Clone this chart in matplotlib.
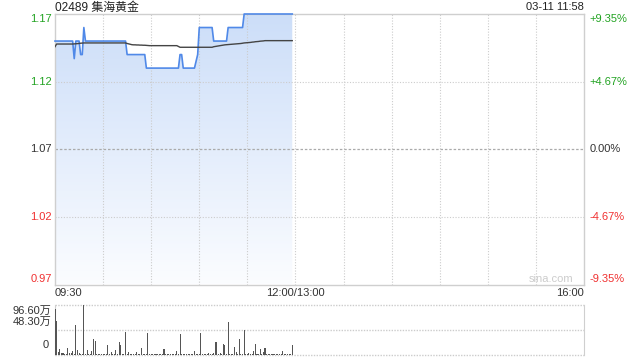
import matplotlib
matplotlib.use("Agg")
import matplotlib.pyplot as plt
import numpy as np
from matplotlib import transforms

plt.rcParams['font.family'] = ['Liberation Sans', 'Noto Sans CJK SC', 'DejaVu Sans']

title = "02489 集海黄金"
stamp = "03-11 11:58"
prev_close = 1.07
y_ticks = [1.17, 1.12, 1.07, 1.02, 0.97]
y_tick_labels = ["1.17", "1.12", "1.07", "1.02", "0.97"]
pct_labels = ["+9.35%", "+4.67%", "0.00%", "-4.67%", "-9.35%"]
x_labels = ["09:30", "12:00/13:00", "16:00"]
vol_labels = ["96.60万", "48.30万", "0"]
vol_max = 96.6
total_minutes = 330

# minute-by-minute price (09:30 .. 11:58)
price = [
    1.15, 1.15, 1.15, 1.15, 1.15, 1.15, 1.15, 1.15, 1.15, 1.15, 1.15, 1.15,
    1.137,
    1.15, 1.15, 1.15,
    1.14, 1.14,
    1.16,
    1.15, 1.15, 1.15, 1.15, 1.15, 1.15, 1.15, 1.15, 1.15, 1.15, 1.15, 1.15, 1.15,
    1.15, 1.15, 1.15, 1.15, 1.15, 1.15, 1.15, 1.15, 1.15, 1.15, 1.15, 1.15, 1.15,
    1.14, 1.14, 1.14, 1.14, 1.14, 1.14, 1.14, 1.14, 1.14, 1.14, 1.14, 1.14,
    1.13, 1.13, 1.13, 1.13, 1.13, 1.13, 1.13, 1.13, 1.13, 1.13, 1.13, 1.13, 1.13,
    1.13, 1.13, 1.13, 1.13, 1.13, 1.13, 1.13, 1.13,
    1.14, 1.14,
    1.13, 1.13, 1.13, 1.13, 1.13, 1.13, 1.13, 1.13,
    1.135, 1.14,
    1.16, 1.16, 1.16, 1.16, 1.16, 1.16, 1.16, 1.16, 1.16,
    1.15, 1.15, 1.15, 1.15, 1.15, 1.15, 1.15, 1.15, 1.15,
    1.16, 1.16, 1.16, 1.16, 1.16, 1.16, 1.16, 1.16, 1.16, 1.16,
    1.17, 1.17, 1.17, 1.17, 1.17, 1.17, 1.17, 1.17, 1.17, 1.17, 1.17, 1.17, 1.17,
    1.17, 1.17, 1.17, 1.17, 1.17, 1.17, 1.17, 1.17, 1.17, 1.17, 1.17, 1.17, 1.17,
    1.17, 1.17, 1.17, 1.17, 1.17,
]

avg_price = [
    1.1458,
    1.1478, 1.1478, 1.1478, 1.1478, 1.1478, 1.1478, 1.1478, 1.1478, 1.1478, 1.1478, 1.1478,
    1.1479, 1.1480, 1.1481, 1.1482, 1.1484, 1.1485, 1.1486,
    1.1486, 1.1486, 1.1486, 1.1486, 1.1486, 1.1486, 1.1486, 1.1486, 1.1486, 1.1486,
    1.1486, 1.1486, 1.1486, 1.1486, 1.1486, 1.1486, 1.1486, 1.1486, 1.1486, 1.1486,
    1.1486, 1.1486, 1.1486, 1.1486, 1.1486, 1.1486,
    1.1482, 1.1479, 1.1476, 1.1473,
    1.1472, 1.1472, 1.1471, 1.1471, 1.1470, 1.1470, 1.1469, 1.1469,
    1.1468, 1.1467,
    1.1466, 1.1466, 1.1466, 1.1466, 1.1466, 1.1466, 1.1466, 1.1466, 1.1466,
    1.1466, 1.1466, 1.1466, 1.1466, 1.1466, 1.1466, 1.1466, 1.1466, 1.1466,
    1.1460,
    1.1454, 1.1454, 1.1454, 1.1454, 1.1454, 1.1454, 1.1454, 1.1454, 1.1454, 1.1454,
    1.1454, 1.1454, 1.1454, 1.1454, 1.1454, 1.1454, 1.1454, 1.1454, 1.1454, 1.1454,
    1.1454,
    1.1458, 1.1460, 1.1462, 1.1464, 1.1466, 1.1468, 1.1470, 1.1472, 1.1473,
    1.1474, 1.1475, 1.1476, 1.1477, 1.1478, 1.1479, 1.1480, 1.1481, 1.1482, 1.1484,
    1.1486, 1.1487, 1.1488, 1.1489, 1.1490, 1.1492, 1.1493,
    1.1495, 1.1496, 1.1497, 1.1499, 1.1500, 1.1501, 1.1503,
    1.1503, 1.1503, 1.1503, 1.1503, 1.1503, 1.1503, 1.1503, 1.1503, 1.1503,
    1.1503, 1.1503, 1.1503, 1.1503, 1.1503, 1.1503, 1.1503, 1.1503,
]

# volume per minute, in 万 shares
volume = [
    89, 66, 6, 12, 4, 4, 2, 1, 13, 4, 3, 7, 1, 58, 10, 4, 2, 1, 96.6, 1,
    10, 1, 1, 8, 31, 26, 1, 1, 2, 1, 2, 1, 1, 20, 2, 6, 2, 1, 9, 1,
    25, 20, 1, 1, 45, 2, 6, 2, 1, 2, 1, 6, 2, 1, 13, 1, 2, 1, 42, 2,
    1, 1, 2, 1, 1, 2, 1, 1, 12, 2, 1, 2, 2, 1, 1, 1, 8, 1, 40, 2,
    1, 2, 1, 2, 2, 1, 2, 8, 1, 2, 1, 42, 1, 2, 1, 2, 4, 1, 2, 4,
    25, 25, 1, 4, 1, 21, 19, 2, 64, 2, 1, 2, 15, 6, 1, 31, 2, 1, 48, 2,
    1, 4, 2, 1, 7, 21, 2, 1, 12, 2, 6, 13, 2, 1, 2, 1, 2, 1, 2, 1,
    2, 1, 8, 2, 1, 2, 1, 2, 19,
]

minutes = np.arange(len(price))

GREEN = '#22a322'
RED = '#f03030'
DARK = '#333333'
GRID = '#cccccc'
FS = 8

fig = plt.figure(figsize=(6.4, 3.6), dpi=100)
ax = fig.add_axes([55/640, 1-284.5/360, 529/640, 270.5/360])
axv = fig.add_axes([55/640, 1-355/360, 529/640, 50.3/360])

ymin, ymax = min(y_ticks), max(y_ticks)
ax.set_xlim(0, total_minutes)
ax.set_ylim(ymin, ymax)

# gradient fill under price
grad = np.linspace(0, 1, 256).reshape(-1, 1)
top_c = np.array([0.80, 0.87, 0.975])
bot_c = np.array([0.985, 0.99, 1.0])
img = top_c[None, None, :] * (1 - grad[:, :, None]) + bot_c[None, None, :] * grad[:, :, None]
poly = ax.fill_between(minutes, price, ymin, color='none', lw=0)
im = ax.imshow(img, extent=[0, minutes[-1], ymin, ymax], aspect='auto',
               origin='upper', zorder=1)
path = poly.get_paths()[0]
im.set_clip_path(path, transform=ax.transData)

# grid
for m in range(30, total_minutes, 30):
    ax.axvline(m, color=GRID, lw=0.8, ls=(0, (1, 1.5)), zorder=2)
for v in [1.12, 1.02]:
    ax.axhline(v, color=GRID, lw=0.8, ls=(0, (1, 1.5)), zorder=2)
ax.axhline(prev_close, color='#aaaaaa', lw=0.9, ls=(0, (2, 1.5)), zorder=2)

ax.plot(minutes, price, color='#5089e8', lw=1.2, zorder=4, clip_on=False)
ax.plot(minutes, avg_price, color='#444444', lw=1.0, zorder=5)

ax.set_xticks([])
ax.set_yticks([])
for s in ax.spines.values():
    s.set_color('#cfcfcf')
    s.set_linewidth(1.0)

# y labels
trans_l = transforms.blended_transform_factory(ax.transAxes, ax.transData)
label_colors = [GREEN, GREEN, DARK, RED, RED]
vas = ['top', 'center', 'center', 'center', 'bottom']
for v, lab, pl, c, va in zip(y_ticks, y_tick_labels, pct_labels, label_colors, vas):
    ax.text(-0.006, v, lab, transform=trans_l, ha='right', va=va, color=c, fontsize=FS)
    ax.text(1.011, v, pl, transform=trans_l, ha='left', va=va, color=c, fontsize=FS)

# x labels
ax.text(0, -0.031, x_labels[0], transform=ax.transAxes, ha='left', va='center', fontsize=FS, color=DARK)
ax.text(150/total_minutes, -0.031, x_labels[1], transform=ax.transAxes, ha='center', va='center', fontsize=FS, color=DARK)
ax.text(1, -0.031, x_labels[2], transform=ax.transAxes, ha='right', va='center', fontsize=FS, color=DARK)

ax.text(0.979, 0.02, "sina.com", transform=ax.transAxes, ha='right', va='center', fontsize=FS, color='#cccccc')

fig.text(55/640, 1-7.5/360, title, ha='left', va='center', fontsize=8.6, color='#222222')
fig.text(584/640, 1-7.5/360, stamp, ha='right', va='center', fontsize=FS, color='#222222')

# volume panel
axv.set_xlim(0, total_minutes)
axv.set_ylim(0, vol_max)
axv.bar(minutes, volume, width=0.65, color='#555555', zorder=3)
for v in [0, vol_max/2, vol_max]:
    axv.axhline(v, color=GRID, lw=1.0, ls=(0, (1, 1)), zorder=1, clip_on=False)
axv.set_xticks([])
axv.set_yticks([])
for k in ['top', 'bottom']:
    axv.spines[k].set_visible(False)
for k in ['left', 'right']:
    axv.spines[k].set_color('#cfcfcf')
axv.text(-0.006, 0.885, vol_labels[0], transform=axv.transAxes, ha='right', va='center', fontsize=FS, color=DARK)
axv.text(-0.006, 0.656, vol_labels[1], transform=axv.transAxes, ha='right', va='center', fontsize=FS, color=DARK)
axv.text(-0.012, 0.2, vol_labels[2], transform=axv.transAxes, ha='right', va='center', fontsize=FS, color=DARK)

fig.savefig("out.png", dpi=100)
